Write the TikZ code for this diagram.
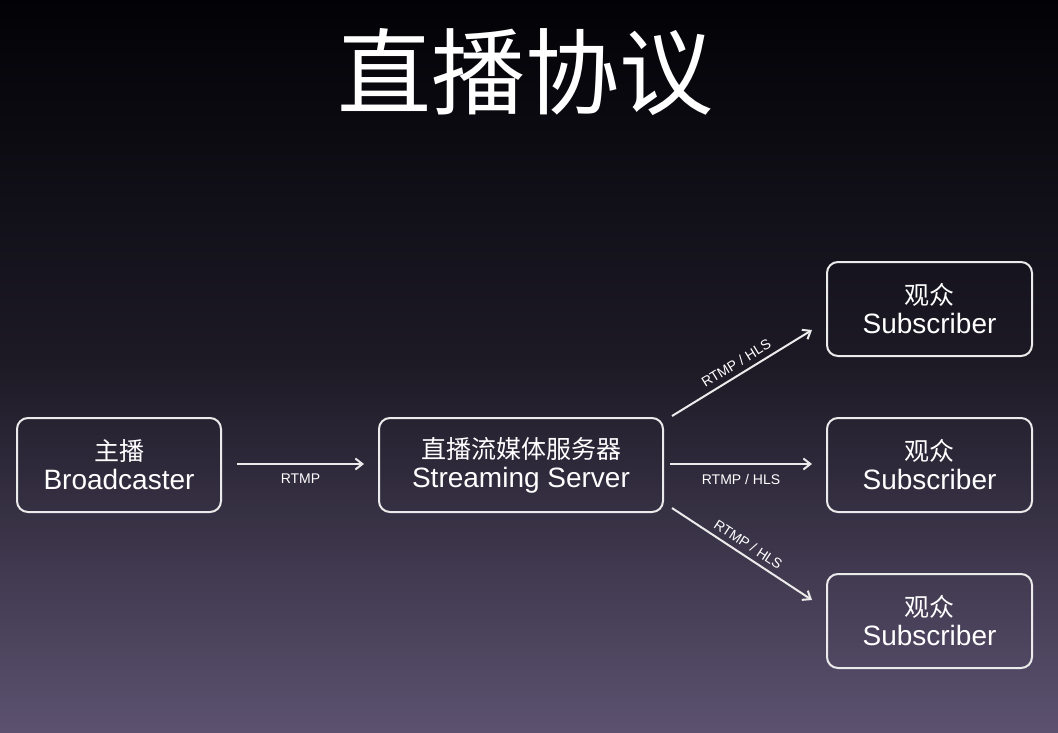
\documentclass[tikz,border=0pt]{standalone}
\usepackage{fontspec}
\setmainfont{Liberation Sans}
\newfontfamily\cjk{Noto Sans CJK SC}
\definecolor{bgtop}{RGB}{2,2,6}
\definecolor{bgbot}{RGB}{92,82,112}
\usetikzlibrary{arrows.meta}
\begin{document}
\begin{tikzpicture}[x=1pt,y=-1pt,
  box/.style={draw=white!92!black,line width=2pt,rounded corners=11pt,minimum width=204pt,minimum height=94pt,text=white,align=center,font=\fontsize{28}{32}\selectfont},
  arr/.style={draw=white!92!black,line width=2pt,-{Straight Barb[length=7pt,width=11pt]}},
  lab/.style={text=white,font=\fontsize{14}{16}\selectfont}]
\fill[top color=bgtop,bottom color=bgbot,middle color=bgtop!70!bgbot] (0,0) rectangle (1058,732);
\useasboundingbox (0,0) rectangle (1058,732);
\node[text=white,font=\cjk\fontsize{94}{100}\selectfont] (title) at (525,72) {直播协议};
\node[box] (b) at (119,465) {{\cjk\fontsize{25}{30}\selectfont 主播}\\[-3pt]Broadcaster};
\node[box,minimum width=284pt] (s) at (521,465) {{\cjk\fontsize{25}{30}\selectfont 直播流媒体服务器}\\[-3pt]Streaming Server};
\node[box,minimum width=205pt] (s1) at (929.5,309) {{\cjk\fontsize{25}{30}\selectfont 观众}\\[-3pt]Subscriber};
\node[box,minimum width=205pt] (s2) at (929.5,465) {{\cjk\fontsize{25}{30}\selectfont 观众}\\[-3pt]Subscriber};
\node[box,minimum width=205pt] (s3) at (929.5,621) {{\cjk\fontsize{25}{30}\selectfont 观众}\\[-3pt]Subscriber};
\coordinate (a1) at (237,464); \coordinate (a2) at (364,464);
\draw[arr] (a1) -- (a2) node[lab,midway,below=6pt] {RTMP};
\coordinate (c1) at (670,464); \coordinate (c2) at (812,464);
\draw[arr] (c1) -- (c2) node[lab,midway,below=6pt] {RTMP / HLS};
\coordinate (u1) at (672,416); \coordinate (u2) at (812,330);
\draw[arr] (u1) -- (u2) node[lab,midway,above=2pt,sloped] {RTMP / HLS};
\coordinate (d1) at (672,508); \coordinate (d2) at (812,600);
\draw[arr] (d1) -- (d2) node[lab,midway,above=2pt,sloped] {RTMP / HLS};
\end{tikzpicture}
\end{document}
